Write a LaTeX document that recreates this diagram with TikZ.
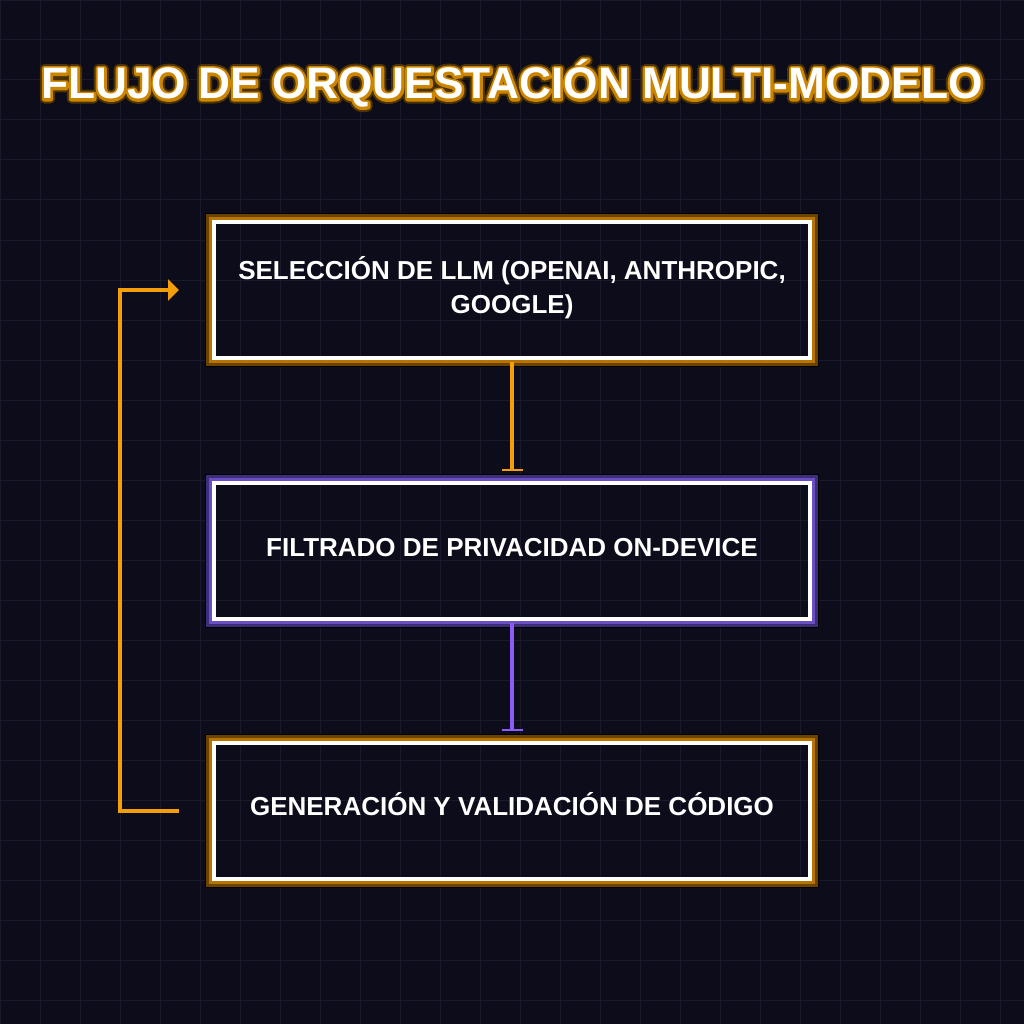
\documentclass[tikz,border=0pt]{standalone}
\usepackage{fontspec}
\setmainfont{Liberation Sans}
\usetikzlibrary{arrows.meta,calc}
\definecolor{bgc}{HTML}{0C0C1A}
\definecolor{gridc}{HTML}{1A1A2C}
\definecolor{amber}{HTML}{F59E0B}
\definecolor{violet}{HTML}{8B5CF6}
\definecolor{omid}{HTML}{B87400}
\definecolor{odark}{HTML}{6A4300}
\definecolor{pmid}{HTML}{6A4FC2}
\definecolor{pdark}{HTML}{3E2D7A}
\tikzset{
  flowbox/.style={draw=white, line width=4pt, minimum width=596pt, minimum height=136pt,
    inner sep=0pt, text=white, align=center, font=\bfseries\fontsize{26}{34}\selectfont},
  titletext/.style={font=\bfseries\fontsize{44.2}{50}\selectfont, inner sep=0pt, anchor=base},
}
\newcommand{\strokedtext}[3]{\special{pdf:literal direct 2 Tr 1 j #1 w #2 RG #2 rg}#3\special{pdf:literal direct 0 Tr}}
\newcommand{\glowbox}[3]{%
  \draw[#2, line width=3pt] ([xshift=-1.5pt,yshift=1.5pt]#1.north west) rectangle ([xshift=1.5pt,yshift=-1.5pt]#1.south east);
  \draw[#3, line width=3pt] ([xshift=-4.5pt,yshift=4.5pt]#1.north west) rectangle ([xshift=4.5pt,yshift=-4.5pt]#1.south east);
  \draw[black, line width=1.5pt] ([xshift=-6.5pt,yshift=6.5pt]#1.north west) rectangle ([xshift=6.5pt,yshift=-6.5pt]#1.south east);
}
\begin{document}
\begin{tikzpicture}[x=1pt,y=-1pt]
\fill[bgc] (0,0) rectangle (1024,1024);
\useasboundingbox (0,0) rectangle (1024,1024);
\draw[gridc, line width=1pt, step=40pt] (0,0) grid (1024,1024);

% title with glow outline
\node[titletext] (titleglow) at (512,99) {\strokedtext{9}{0.30 0.20 0}{FLUJO DE ORQUESTACIÓN MULTI-MODELO}};
\node[titletext] (titleline) at (512,99) {\strokedtext{5}{0.80 0.52 0}{FLUJO DE ORQUESTACIÓN MULTI-MODELO}};
\node[titletext, text=white] (title) at (512,99) {FLUJO DE ORQUESTACIÓN MULTI-MODELO};

% boxes
\node[flowbox] (b1) at (512,290) {\begin{tabular}{@{}c@{}}SELECCIÓN DE LLM (OPENAI, ANTHROPIC,\\GOOGLE)\end{tabular}};
\node[flowbox] (b2) at (512,551) {\raisebox{0pt}[15pt][4.4pt]{FILTRADO DE PRIVACIDAD ON-DEVICE}};
\node[flowbox] (b3) at (512,811) {\raisebox{0pt}[13pt][4.4pt]{GENERACIÓN Y VALIDACIÓN DE CÓDIGO}};
\glowbox{b1}{omid}{odark}
\glowbox{b2}{pmid}{pdark}
\glowbox{b3}{omid}{odark}

% connectors
\draw[amber, line width=4pt, shorten <=2pt, shorten >=10pt, -{Bar[width=21pt,line width=2.5pt]}] (b1.south) -- (b2.north);
\draw[violet, line width=4pt, shorten <=2pt, shorten >=10pt, -{Bar[width=21pt,line width=2.5pt]}] (b2.south) -- (b3.north);
\draw[amber, line width=4pt, line join=miter, shorten <=33pt, shorten >=33pt, -{Triangle[length=11pt,width=21pt]}] (b3.west) -- (120,811) |- (b1.west);
\end{tikzpicture}
\end{document}
